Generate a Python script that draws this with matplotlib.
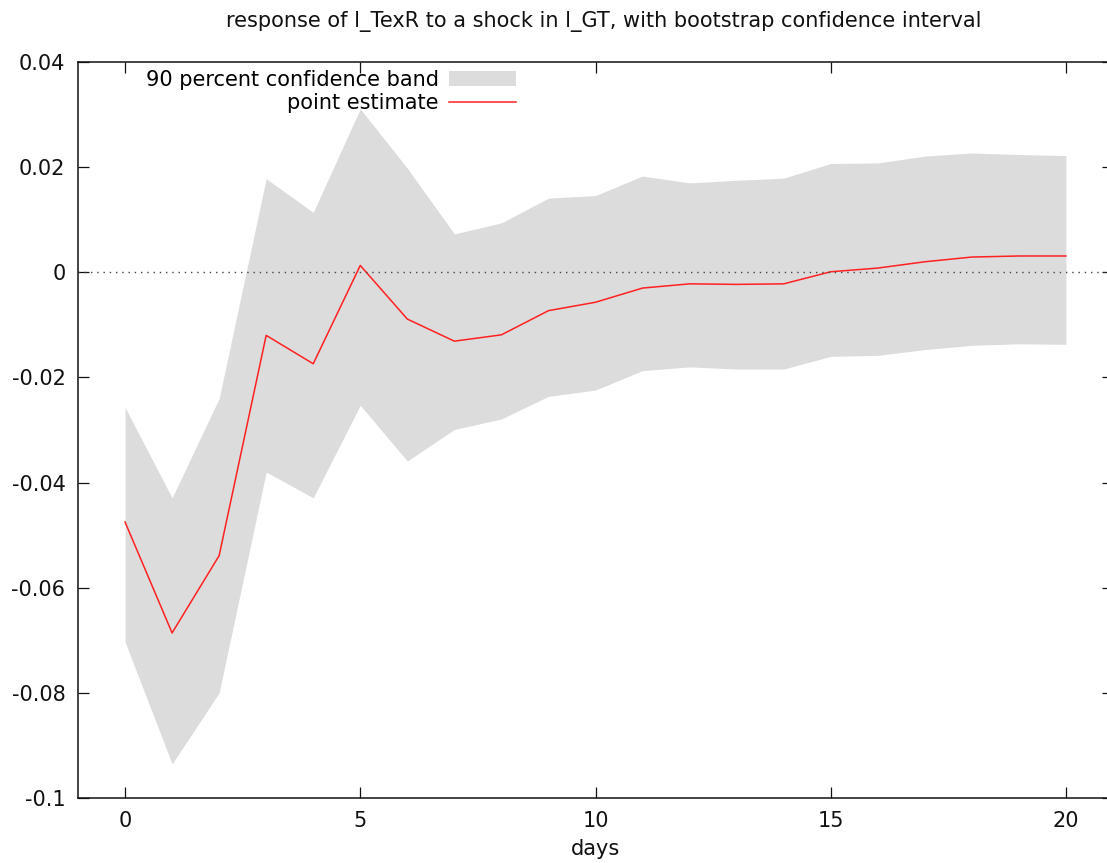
import matplotlib
matplotlib.use("Agg")
import matplotlib.pyplot as plt

# impulse response
days = list(range(21))
point = [-0.0475, -0.0686, -0.0539, -0.0120, -0.0174, 0.0013, -0.0089, -0.0131,
         -0.0119, -0.0073, -0.0057, -0.0030, -0.0022, -0.0023, -0.0022, 0.0001,
         0.0008, 0.0020, 0.0029, 0.0031, 0.0031]
upper = [-0.0257, -0.0429, -0.0240, 0.0178, 0.0114, 0.0311, 0.0198, 0.0073,
         0.0094, 0.0141, 0.0146, 0.0183, 0.0170, 0.0175, 0.0179, 0.0207,
         0.0208, 0.0221, 0.0227, 0.0224, 0.0222]
lower = [-0.0703, -0.0935, -0.0800, -0.0380, -0.0429, -0.0253, -0.0359, -0.0299,
         -0.0279, -0.0236, -0.0224, -0.0187, -0.0180, -0.0184, -0.0184, -0.0160,
         -0.0158, -0.0147, -0.0139, -0.0136, -0.0137]
yticks = [-0.1, -0.08, -0.06, -0.04, -0.02, 0, 0.02, 0.04]
ytick_labels = ["-0.1", "-0.08", "-0.06", "-0.04", "-0.02", "0", "0.02", "0.04"]
xticks = [0, 5, 10, 15, 20]

FS = 15
plt.rcParams.update(
    {
        "font.family": ["DejaVu Sans"],
        "font.size": FS,
    }
)

W, H = 1107, 863
fig = plt.figure(figsize=(W / 100, H / 100), dpi=100)
ax = fig.add_axes([78 / W, 1 - 798 / H, (1113 - 78) / W, (798 - 62) / H])

ax.fill_between(days, lower, upper, color="#dcdcdc", linewidth=0,
                label="90 percent confidence band")
ax.plot(days, point, color="#ff2020", linewidth=1.1, label="point estimate")
ax.axhline(0, color="#444444", linestyle=(0, (1, 3.5)), linewidth=1.0)

ax.set_xlim(-1, 21)
ax.set_ylim(-0.1, 0.04)
ax.set_xticks(xticks)
ax.set_yticks(yticks)
ax.set_yticklabels(ytick_labels)
ax.tick_params(direction="in", length=8, width=0.9, top=True, right=True,
               pad=9, labelsize=FS, colors="#111111")
for sp in ax.spines.values():
    sp.set_linewidth(1.1)
    sp.set_color("#111111")

fig.text(604 / W, 1 - 21 / H, "response of l_TexR to a shock in l_GT, with bootstrap confidence interval",
         ha="center", va="center", fontsize=FS, color="#111111")
fig.text(596 / W, 1 - 849 / H, "days", ha="center", va="center",
         fontsize=FS, color="#111111")

ax.legend(loc="upper right", bbox_to_anchor=(516 / W, 1 - 70 / H),
          bbox_transform=fig.transFigure, frameon=False, markerfirst=False,
          borderpad=0, borderaxespad=0, handlelength=3.2, handleheight=0.7,
          handletextpad=0.5, labelspacing=0.15, fontsize=FS)

fig.savefig("out.png", dpi=100)
